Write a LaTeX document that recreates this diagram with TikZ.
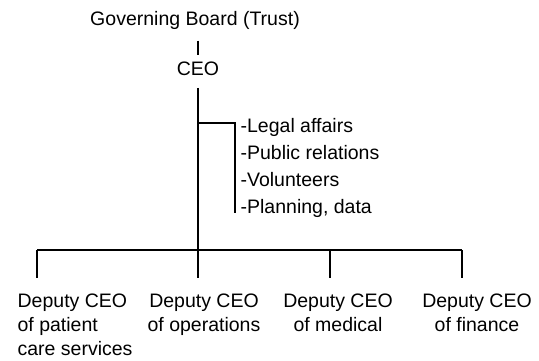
\documentclass[tikz,border=0pt]{standalone}
\usepackage{fontspec}
\setmainfont{Liberation Sans}
\begin{document}
\begin{tikzpicture}[x=1pt, y=-1pt, line width=1.3pt,
        every node/.style={inner sep=0pt, font=\fontsize{19.5}{24}\selectfont},
        staff/.style={anchor=base west},
        deputy/.style={anchor=north, align=center}]
            \useasboundingbox (0,0) rectangle (539,360);

            \node[anchor=base] (board) at (195,25) {Governing Board (Trust)};
            \node[anchor=base] (ceo) at (198,75) {CEO};

            \node[staff] (legal) at (240,132) {-Legal affairs};
            \node[staff] (pr) at (240,159) {-Public relations};
            \node[staff] (vol) at (240,186) {-Volunteers};
            \node[staff] (plan) at (240,213) {-Planning, data};

            \node[deputy, anchor=north west, align=left] (dep1) at (17,293) {Deputy CEO\\of patient\\care services};
            \node[deputy] (dep2) at (204,293) {Deputy CEO\\of operations};
            \node[deputy] (dep3) at (338,293) {Deputy CEO\\of medical};
            \node[deputy] (dep4) at (477,293) {Deputy CEO\\of finance};

            \coordinate (branch) at (198,123);
            \coordinate (bar) at (198,250);

            \draw[shorten <=11pt, shorten >=6pt] (ceo.north |- board.south) -- (ceo.north);
            \draw[shorten <=12pt] (ceo.south) -- (bar);
            \draw (branch) -| ([xshift=-5pt]plan.base west);
            \draw (37,250) -- (462,250);
            \foreach \x/\n in {37/1,198/2,330/3,462/4}
                \draw[shorten >=15pt] (\x,250) -- (\x,250 |- dep\n.north);
        \end{tikzpicture}
\end{document}
